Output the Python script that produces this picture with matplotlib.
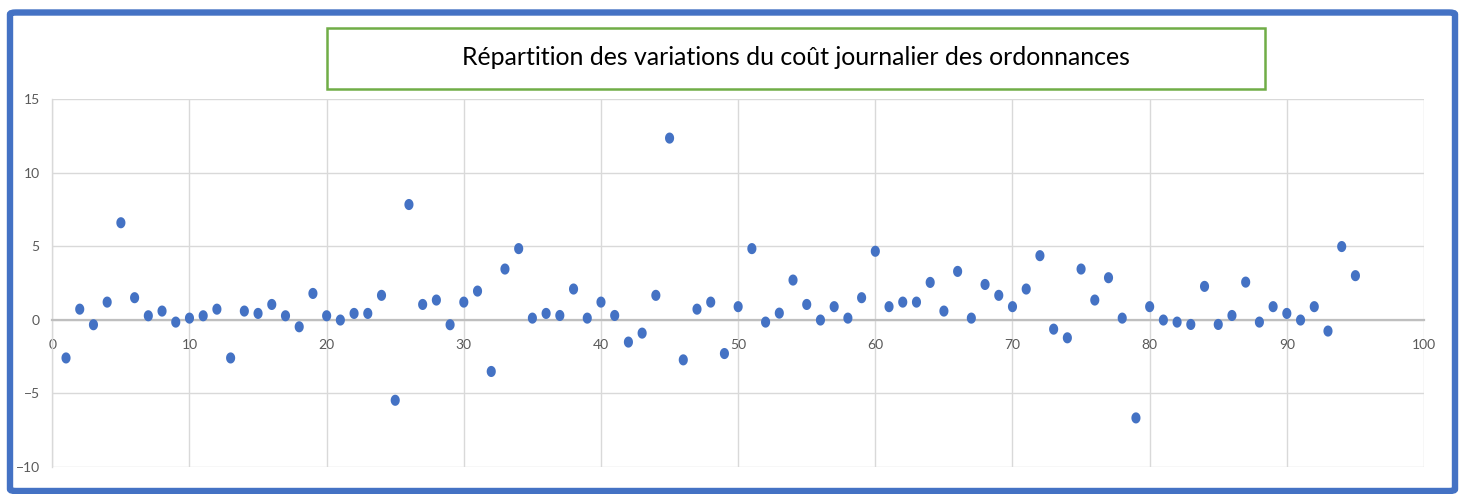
import matplotlib
matplotlib.use("Agg")
import matplotlib.pyplot as plt
from matplotlib.patches import Rectangle, FancyBboxPatch
from matplotlib.path import Path
import numpy as np

# ---- data ----
x_values = list(range(1, 96))
y_values = [
    -2.6, 0.72, -0.34, 1.2, 6.6, 1.5, 0.27, 0.59, -0.16, 0.11,
    0.27, 0.72, -2.6, 0.59, 0.43, 1.04, 0.27, -0.48, 1.79, 0.27,
    -0.02, 0.43, 0.43, 1.66, -5.48, 7.84, 1.04, 1.34, -0.34, 1.2,
    1.95, -3.52, 3.45, 4.84, 0.11, 0.43, 0.29, 2.09, 0.11, 1.2,
    0.29, -1.52, -0.91, 1.66, 12.36, -2.73, 0.72, 1.2, -2.3, 0.89,
    4.84, -0.16, 0.45, 2.7, 1.04, -0.02, 0.89, 0.11, 1.5, 4.66,
    0.89, 1.2, 1.2, 2.54, 0.59, 3.29, 0.11, 2.4, 1.66, 0.89,
    2.09, 4.36, -0.64, -1.23, 3.45, 1.34, 2.86, 0.11, -6.68, 0.89,
    -0.02, -0.16, -0.32, 2.27, -0.32, 0.29, 2.56, -0.16, 0.89, 0.43,
    -0.02, 0.89, -0.77, 4.98, 3.0,
]
x_ticks = [0, 10, 20, 30, 40, 50, 60, 70, 80, 90, 100]
y_ticks = [-10, -5, 0, 5, 10, 15]
title = "Répartition des variations du coût journalier des ordonnances"

W, H = 1461, 494
fig = plt.figure(figsize=(W / 100, H / 100), dpi=100)
fig.patch.set_facecolor("white")

def fx(px):
    return px / W

def fy(py):
    return (H - py) / H

# axes placement
left, right, top, bottom = 52.3, 1424.0, 99.3, 466.7
ax = fig.add_axes([fx(left), fy(bottom), fx(right) - fx(left), (bottom - top) / H])
ax.set_xlim(0, 100)
ax.set_ylim(-10, 15)
ax.set_xticks(x_ticks)
ax.set_yticks(y_ticks)
ax.grid(True, color="#D9D9D9", linewidth=1.0)
ax.set_axisbelow(True)
for s in ["top", "right"]:
    ax.spines[s].set_visible(False)
ax.spines["bottom"].set_position(("data", 0))
ax.spines["bottom"].set_color("#BFBFBF")
ax.spines["bottom"].set_linewidth(1.6)
ax.spines["left"].set_color("#D9D9D9")
ax.spines["left"].set_linewidth(1.0)
ax.tick_params(axis="both", length=0, colors="#595959", labelsize=10)
ax.tick_params(axis="x", pad=14)
ax.tick_params(axis="y", pad=9)
for lab in ax.get_xticklabels() + ax.get_yticklabels():
    lab.set_fontfamily("Lato")
    lab.set_color("#595959")

# elliptical marker (slightly taller than wide)
t = np.linspace(0, 2 * np.pi, 60)
verts = np.column_stack([0.82 * np.cos(t), np.sin(t)])
ell = Path(verts, closed=True)
ax.scatter(x_values, y_values, marker=ell, s=64, color="#4472C4",
           edgecolors="none", zorder=3, clip_on=False)

# title box
tb_l, tb_r, tb_t, tb_b = 326.5, 1264.5, 27.7, 89.0
fig.patches.append(Rectangle((fx(tb_l), fy(tb_b)), fx(tb_r) - fx(tb_l),
                             (tb_b - tb_t) / H, transform=fig.transFigure,
                             fill=False, edgecolor="#70AD47", linewidth=1.8))
fig.text(fx(795.5), fy(57.5), title, ha="center", va="center",
         fontsize=17.9, family="Lato", color="black")

# outer blue frame
bl, br, bt, bb = 10, 1455, 12.5, 491
fig.patches.append(FancyBboxPatch((fx(bl), fy(bb)), fx(br) - fx(bl), (bb - bt) / H,
                                  boxstyle="round,pad=0,rounding_size=0.004",
                                  transform=fig.transFigure, fill=False,
                                  edgecolor="#4472C4", linewidth=4.6))

fig.savefig("out.png", dpi=100)
